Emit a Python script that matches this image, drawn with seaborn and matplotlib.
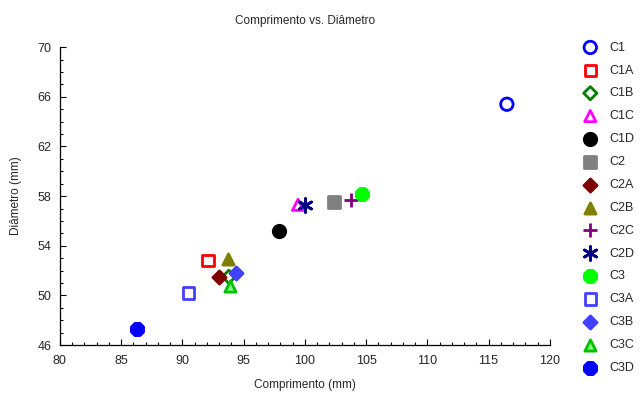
import matplotlib
matplotlib.use('Agg')
import matplotlib.pyplot as plt
import seaborn as sns
from matplotlib.ticker import MultipleLocator

# Amostras e medidas (mm)
amostras = ['C1', 'C1A', 'C1B', 'C1C', 'C1D', 'C2', 'C2A', 'C2B', 'C2C', 'C2D',
            'C3', 'C3A', 'C3B', 'C3C', 'C3D']
comprimento = [116.5, 92.1, 93.8, 99.45, 97.9, 102.4, 93.0, 93.7, 103.8, 100.05,
               104.7, 90.5, 94.4, 93.9, 86.3]
diametro = [65.4, 52.8, 51.5, 57.3, 55.2, 57.5, 51.45, 52.9, 57.7, 57.3,
            58.2, 50.2, 51.8, 50.75, 47.3]
yticks = [46, 50, 54, 58, 62, 66, 70]

# estilo de cada serie: marcador, cor da borda, cor de preenchimento
marcadores = ['o', 's', 'D', '^', 'o', 's', 'D', '^', '+', (6, 2, 0),
              '8', 's', 'D', '^', '8']
cores = ['#0000ff', '#ff0000', '#008000', '#ff00ff', '#000000', '#808080', '#800000',
         '#808000', '#800080', '#000080', '#00ff00', '#4040ff', '#4040ff', '#00c000',
         '#0000ff']
preenchimento = ['none', 'none', 'none', 'none', '#000000', '#808080', '#800000',
                 '#808000', None, None, '#00ff00', 'none', '#4040ff', '#80ff80',
                 '#0000ff']
tamanho = {'o': 80, 's': 65, 'D': 45, '^': 65, '8': 90}

sns.set_style('ticks')
plt.rcParams['font.family'] = ['Liberation Sans', 'DejaVu Sans']

fig = plt.figure(figsize=(6.43, 3.93), dpi=100)
ax = fig.add_axes([0.093, 0.122, 0.762, 0.758])

for i, nome in enumerate(amostras):
    m = marcadores[i]
    if preenchimento[i] is None:
        sns.scatterplot(x=[comprimento[i]], y=[diametro[i]], marker=m, s=100,
                        color=cores[i], linewidth=2, label=nome, ax=ax)
    else:
        sns.scatterplot(x=[comprimento[i]], y=[diametro[i]], marker=m,
                        s=tamanho[m], facecolor=preenchimento[i],
                        edgecolor=cores[i], linewidth=2, label=nome, ax=ax)

ax.set_xlim(80, 120)
ax.set_ylim(46, 70)
ax.xaxis.set_major_locator(MultipleLocator(5))
ax.xaxis.set_minor_locator(MultipleLocator(1))
ax.set_yticks(yticks)
ax.yaxis.set_minor_locator(MultipleLocator(1))
ax.tick_params(which='both', direction='in', labelsize=9, width=0.8, color='black')
ax.tick_params(which='major', length=4)
ax.tick_params(which='minor', length=2)
ax.tick_params(axis='x', pad=7)
ax.tick_params(axis='y', pad=6)
sns.despine(ax=ax)
for s in ['left', 'bottom']:
    ax.spines[s].set_color('black')
    ax.spines[s].set_linewidth(0.9)

ax.set_title('Comprimento vs. Diâmetro', fontsize=8.5, pad=17)
ax.set_xlabel('Comprimento (mm)', fontsize=8.5, labelpad=9)
ax.set_ylabel('Diâmetro (mm)', fontsize=8.5, labelpad=11)

ax.legend(loc='upper left', bbox_to_anchor=(1.047, 1.035), frameon=False,
          fontsize=9, labelspacing=0.87, handletextpad=0.5, borderaxespad=0)

fig.savefig('out.png', dpi=100)
